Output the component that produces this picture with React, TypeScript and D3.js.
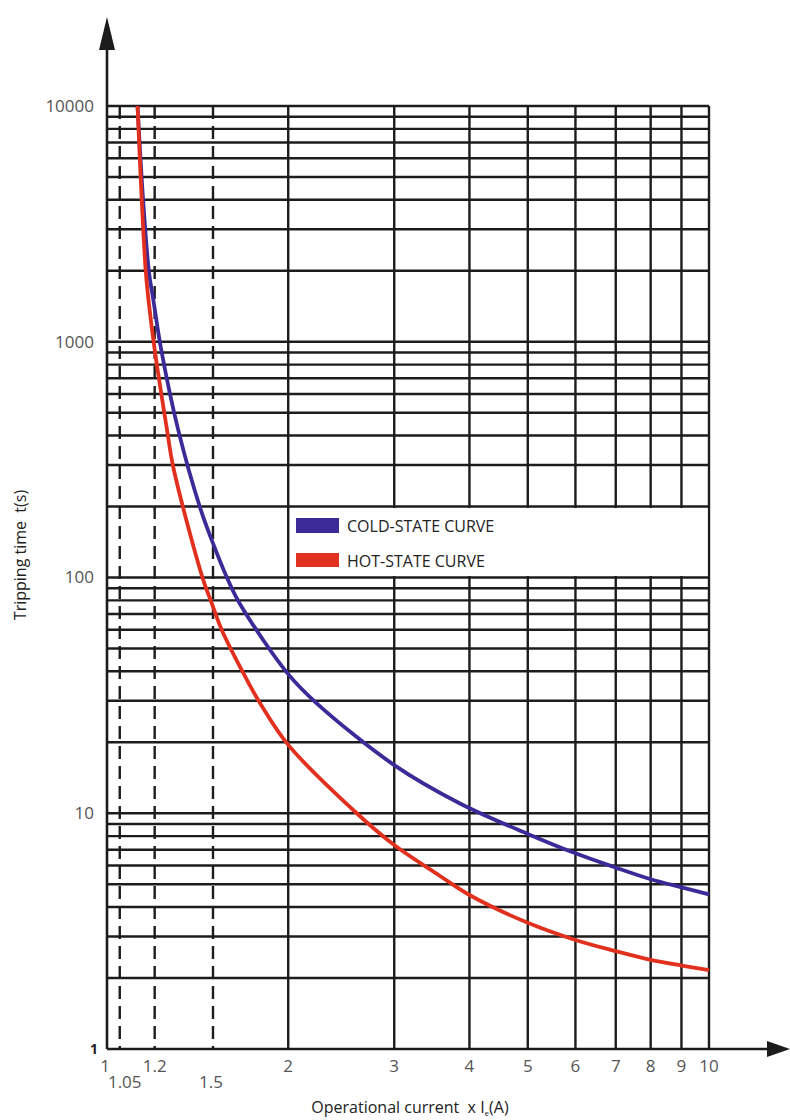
import React from "react";
import * as d3 from "d3";

const xGridValues = [2, 3, 4, 5, 6, 7, 8, 9, 10];
const dashedValues = [1.05, 1.2, 1.5];
const yDecades = [1, 10, 100, 1000];
const yMinorMultipliers = [2, 3, 4, 5, 6, 7, 8, 9, 10];
const yTickLabels = ["1", "10", "100", "1000", "10000"];
const xTickRow1 = ["1", "1.2", "2", "3", "4", "5", "6", "7", "8", "9", "10"];
const xTickRow2 = ["1.05", "1.5"];

// Cold-state curve: multiple of Ie -> tripping time (s)
const coldX = [1.124, 1.148, 1.174, 1.194, 1.229, 1.313, 1.427, 1.493, 1.584, 1.663, 2.0, 2.216, 3.0, 3.858, 5, 6, 7, 8, 9, 10];
const coldT = [10000, 4000, 1977, 1503, 941, 423, 198.6, 144, 99.2, 77.2, 38.9, 29.7, 16.0, 11.0, 8.17, 6.76, 5.88, 5.25, 4.85, 4.53];
// Hot-state curve
const hotX = [1.124, 1.142, 1.16, 1.172, 1.199, 1.258, 1.288, 1.442, 1.493, 1.551, 1.702, 1.796, 2.0, 2.599, 3.0, 3.574, 4, 5, 6, 7, 8, 9, 10];
const hotT = [10000, 4000, 1977, 1503, 941, 423, 295, 99.2, 77.7, 59.9, 37.4, 29.3, 19.5, 10, 7.33, 5.42, 4.5, 3.43, 2.9, 2.6, 2.39, 2.26, 2.16];

const COLD = "#3b2a98";
const HOT = "#e2301f";
const GRID = "#1c1c1c";
const FONT = "'Open Sans', 'Noto Sans', sans-serif";

export default function App() {
  const x = d3.scaleLog().domain([1, 10]).range([107, 709]);
  const y = d3.scaleLog().domain([1, 10000]).range([1049, 106]);
  const line = d3
    .line<[number, number]>()
    .x((d) => x(d[0]))
    .y((d) => y(d[1]))
    .curve(d3.curveCatmullRom.alpha(0.5));
  const coldData = coldX.map((v, i) => [v, coldT[i]] as [number, number]);
  const hotData = hotX.map((v, i) => [v, hotT[i]] as [number, number]);

  const hValues: number[] = [];
  yDecades.forEach((dec) => yMinorMultipliers.forEach((m) => hValues.push(dec * m)));

  const x0 = x(1);
  const x1 = x(10);
  const yTop = y(10000);
  const yBot = y(1);

  return (
    <svg width={790} height={1120} style={{ display: "block", position: "absolute", left: 0, top: 0 }}>
      <rect width={790} height={1120} fill="#fff" />
      {/* horizontal grid */}
      {hValues.map((v) => (
        <line key={"h" + v} x1={x0} x2={x1} y1={y(v)} y2={y(v)} stroke={GRID} strokeWidth={2.4} />
      ))}
      {/* vertical grid */}
      {xGridValues.map((v) => (
        <line key={"v" + v} x1={x(v)} x2={x(v)} y1={yTop} y2={yBot} stroke={GRID} strokeWidth={2.4} />
      ))}
      {/* dashed reference lines */}
      {dashedValues.map((v) => (
        <line key={"d" + v} x1={x(v)} x2={x(v)} y1={yTop} y2={yBot} stroke={GRID} strokeWidth={2.4} strokeDasharray="13,7" />
      ))}
      {/* legend background */}
      <rect x={x(2) + 2} y={y(200) + 1.5} width={x(10) - x(2) - 3.5} height={y(100) - y(200) - 3} fill="#fff" />
      {/* curves */}
      <path d={line(coldData) || ""} fill="none" stroke={COLD} strokeWidth={3.8} />
      <path d={line(hotData) || ""} fill="none" stroke={HOT} strokeWidth={3.8} />
      {/* axes */}
      <line x1={x0} x2={x0} y1={yBot} y2={48} stroke={GRID} strokeWidth={2.6} />
      <path d={`M${x0},17 L${x0 + 8},50 L${x0 - 8},50 Z`} fill={GRID} />
      <line x1={x0} x2={768} y1={yBot} y2={yBot} stroke={GRID} strokeWidth={2.6} />
      <path d={`M790,${yBot} L767,${yBot - 8} L767,${yBot + 8} Z`} fill={GRID} />
      {/* y tick labels */}
      {yTickLabels.slice(1).map((t) => (
        <text key={"yl" + t} x={94} y={y(+t)} dy="0.35em" textAnchor="end" fontFamily={FONT} fontSize={17} fill="#555">
          {t}
        </text>
      ))}
      <text x={98} y={yBot} dy="0.38em" textAnchor="end" fontFamily={FONT} fontSize={14} fontWeight="bold" fill="#222">
        {yTickLabels[0]}
      </text>
      {/* x tick labels row 1 */}
      {xTickRow1.map((t) => (
        <text key={"xl" + t} x={t === "1" ? x(+t) - 2 : x(+t)} y={1072} textAnchor="middle" fontFamily={FONT} fontSize={17} fill="#555">
          {t}
        </text>
      ))}
      {xTickRow2.map((t) => (
        <text key={"xl2" + t} x={t === "1.05" ? x(+t) + 5 : x(+t) - 2} y={1088} textAnchor="middle" fontFamily={FONT} fontSize={17} fill="#555">
          {t}
        </text>
      ))}
      {/* legend */}
      <rect x={296} y={518} width={43} height={15} fill={COLD} />
      <text x={347} y={526} dy="0.35em" fontFamily={FONT} fontSize={16} fill="#222">COLD-STATE CURVE</text>
      <rect x={296} y={553} width={43} height={14} fill={HOT} />
      <text x={347} y={561} dy="0.35em" fontFamily={FONT} fontSize={16} fill="#222">HOT-STATE CURVE</text>
      {/* axis titles */}
      <text x={410} y={1113} textAnchor="middle" fontFamily={FONT} fontSize={16} fill="#222">
        Operational current{"\u00a0\u00a0"}x I<tspan fontSize={8} dy={3}>e</tspan><tspan dy={-3}>(A)</tspan>
      </text>
      <text transform="translate(26,555) rotate(-90)" textAnchor="middle" fontFamily={FONT} fontSize={16} fill="#222">
        Tripping time{"\u00a0\u00a0"}t(s)
      </text>
    </svg>
  );
}
